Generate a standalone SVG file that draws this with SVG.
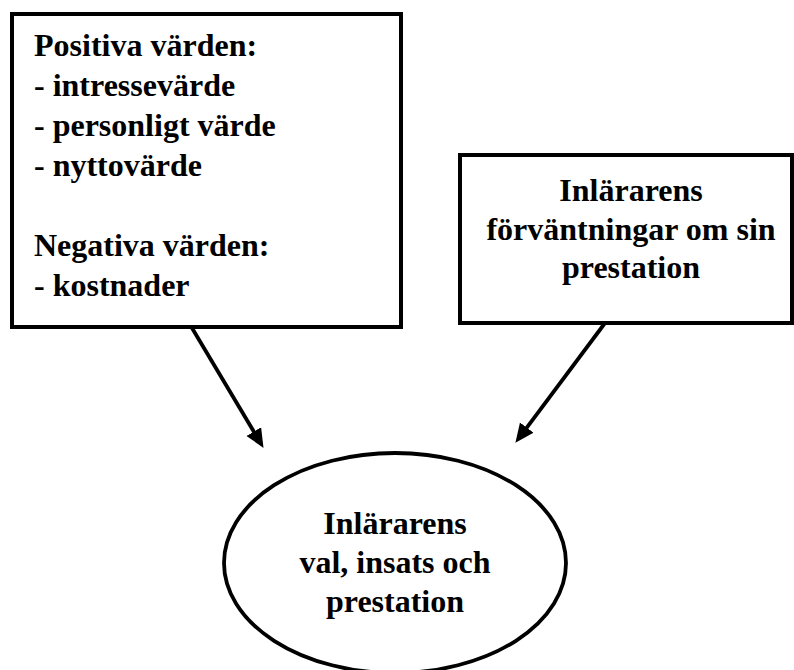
<svg xmlns="http://www.w3.org/2000/svg" width="794" height="670" viewBox="0 0 794 670">
<style>
.t{font-family:"Liberation Serif","Times New Roman",serif;font-weight:bold;font-size:32px;fill:#000}
.box{fill:#fff;stroke:#000;stroke-width:4}
.c{text-anchor:middle}
.conn{stroke:#000;stroke-width:3.8;fill:none}
</style>
<defs>
<marker id="ah" markerUnits="userSpaceOnUse" markerWidth="20" markerHeight="18" viewBox="0 0 20 18" refX="9" refY="8.5" orient="auto">
<path d="M0,0 L19,8.5 L0,17 z" fill="#000"/>
</marker>
</defs>
<rect width="794" height="670" fill="#fff"/>
<g id="values">
<rect class="box" x="12" y="14" width="389" height="313"/>
<text class="t" x="34" y="56">Positiva värden:</text>
<text class="t" x="34" y="96">- intressevärde</text>
<text class="t" x="34" y="136">- personligt värde</text>
<text class="t" x="34" y="176">- nyttovärde</text>
<text class="t" x="34" y="256">Negativa värden:</text>
<text class="t" x="34" y="296">- kostnader</text>
</g>
<g id="expectations">
<rect class="box" x="460" y="155" width="332" height="168"/>
<text class="t c" x="631" y="201">Inlärarens</text>
<text class="t c" x="631" y="240">förväntningar om sin</text>
<text class="t c" x="631" y="278">prestation</text>
</g>
<g id="outcome">
<ellipse cx="395" cy="563" rx="171" ry="110" fill="#fff" stroke="#000" stroke-width="3.8"/>
<text class="t c" x="395" y="534">Inlärarens</text>
<text class="t c" x="395" y="573">val, insats och</text>
<text class="t c" x="395" y="612">prestation</text>
</g>
<g id="connectors">
<path class="conn" d="M192,328 L258.4,439.3" marker-end="url(#ah)"/>
<path class="conn" d="M605,323 L521.4,434.8" marker-end="url(#ah)"/>
</g>
</svg>
